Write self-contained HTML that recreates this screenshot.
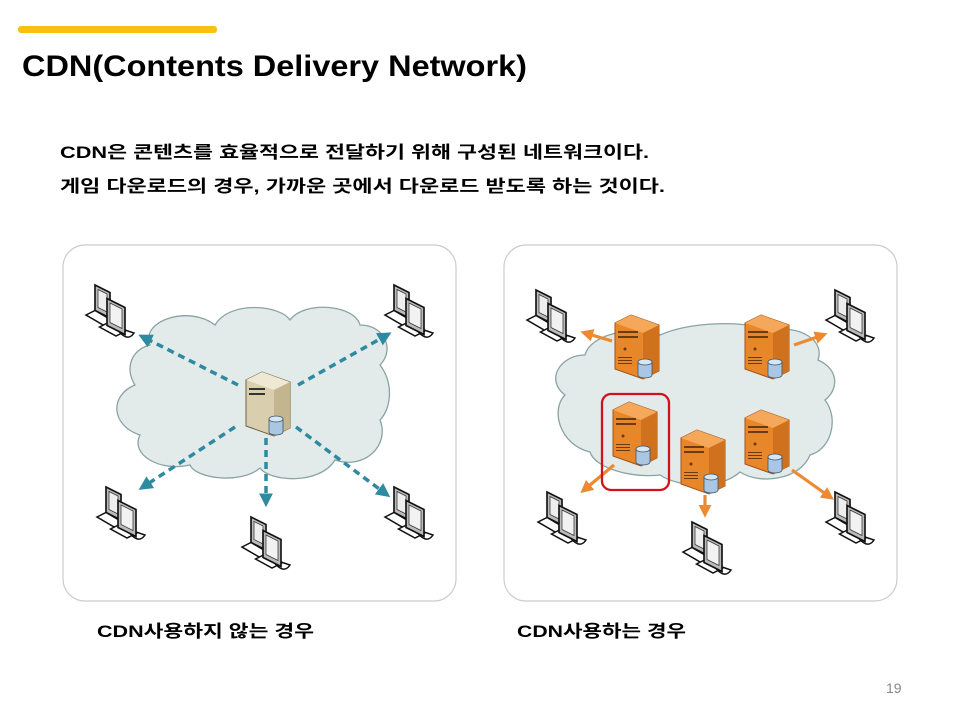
<!DOCTYPE html>
<html><head><meta charset="utf-8"><style>
html,body{margin:0;padding:0;background:#fff;width:960px;height:720px;overflow:hidden}
svg{display:block}
text{font-family:"Liberation Sans","Noto Sans CJK KR",sans-serif}
</style></head><body>
<svg width="960" height="720" viewBox="0 0 960 720" xmlns="http://www.w3.org/2000/svg">
<defs>
<g id="pc">
  <path d="M6 0 L16 5 L16 22 L6 17 Z" fill="#bbb" stroke="#111" stroke-width="1.1"/>
  <path d="M8 3 L14 6 L14 18 L8 15 Z" fill="#eee" stroke="#333" stroke-width="0.5"/>
  <path d="M0 20 L6 17 L18 24 L12 27 Z" fill="#fff" stroke="#111" stroke-width="1"/>
  <path d="M9 28 L15 25 L26 31 L20 34 Z" fill="#fff" stroke="#111" stroke-width="1"/>
  <path d="M14 9 L26 15 L26 33 L14 27 Z" fill="#bbb" stroke="#111" stroke-width="1.1"/>
  <path d="M16 12 L24 16 L24 29 L16 25 Z" fill="#f2f2f2" stroke="#333" stroke-width="0.5"/>
  <path d="M22 31 Q28 38 32 32 L26 30" fill="none" stroke="#111" stroke-width="1"/>
</g>
<g id="srv">
  <path d="M0 8 L16 0 L44 10 L44 56 L28 64 L0 54 Z" fill="#e8862a" stroke="#a0541a" stroke-width="1"/>
  <path d="M0 8 L16 0 L44 10 L28 18 Z" fill="#f6a85a"/>
  <path d="M28 18 L44 10 L44 56 L28 64 Z" fill="#d0711e"/>
  <rect x="3" y="16" width="20" height="2" fill="#6a3a10"/>
  <rect x="3" y="21" width="20" height="2" fill="#6a3a10"/>
  <circle cx="10" cy="34" r="1.5" fill="#6a3a10"/>
  <rect x="3" y="42" width="14" height="1" fill="#6a3a10"/>
  <rect x="3" y="45" width="14" height="1" fill="#6a3a10"/>
  <rect x="3" y="48" width="14" height="1" fill="#6a3a10"/>
  <path d="M23 47 L23 60 A7 3 0 0 0 37 60 L37 47 Z" fill="#a9c7e2" stroke="#456" stroke-width="0.8"/>
  <ellipse cx="30" cy="47" rx="7" ry="3" fill="#d6e6f3" stroke="#456" stroke-width="0.8"/>
</g>
<marker id="ab" markerWidth="4" markerHeight="4" refX="2.5" refY="2" orient="auto" markerUnits="strokeWidth"><path d="M0 0 L4 2 L0 4 Z" fill="#2e8aa0"/></marker>
<marker id="ao" markerWidth="4" markerHeight="4" refX="2.5" refY="2" orient="auto" markerUnits="strokeWidth"><path d="M0 0 L4 2 L0 4 Z" fill="#ec8a32"/></marker>
</defs>

<rect x="18" y="26" width="199" height="7" rx="3" fill="#f6c20f"/>
<text x="22" y="76" font-size="30" font-weight="bold" fill="#000" textLength="505" lengthAdjust="spacingAndGlyphs">CDN(Contents Delivery Network)</text>
<text x="60" y="158" font-size="17" font-weight="bold" fill="#000" textLength="589" lengthAdjust="spacingAndGlyphs">CDN은 콘텐츠를 효율적으로 전달하기 위해 구성된 네트워크이다.</text>
<text x="60" y="192" font-size="17" font-weight="bold" fill="#000" textLength="605" lengthAdjust="spacingAndGlyphs">게임 다운로드의 경우, 가까운 곳에서 다운로드 받도록 하는 것이다.</text>

<rect x="63" y="245" width="393" height="356" rx="22" fill="#fff" stroke="#ccc" stroke-width="1.2"/>
<path d="M150 345 C140 320 190 305 215 325 C230 300 280 305 290 320 C305 300 355 305 360 325 C385 325 395 350 380 365 C395 385 390 410 380 420 C390 445 365 470 335 460 C320 485 270 482 260 468 C240 485 195 478 190 465 C160 472 130 455 140 435 C110 425 110 395 135 385 C125 370 130 350 150 345 Z" fill="#e3eaea" stroke="#8aa3a3" stroke-width="1.3"/>
<g stroke="#2e8aa0" stroke-width="3.5" stroke-dasharray="7 5" fill="none">
  <line x1="238" y1="385" x2="143" y2="337" marker-end="url(#ab)"/>
  <line x1="298" y1="385" x2="387" y2="335" marker-end="url(#ab)"/>
  <line x1="235" y1="427" x2="143" y2="487" marker-end="url(#ab)"/>
  <line x1="266" y1="438" x2="266" y2="502" marker-end="url(#ab)"/>
  <line x1="296" y1="427" x2="386" y2="494" marker-end="url(#ab)"/>
</g>
<g transform="translate(246,372)">
  <path d="M0 8 L16 0 L44 10 L44 56 L28 64 L0 54 Z" fill="#d9cfae" stroke="#6b6040" stroke-width="1"/>
  <path d="M0 8 L16 0 L44 10 L28 18 Z" fill="#efe8d3"/>
  <path d="M28 18 L44 10 L44 56 L28 64 Z" fill="#c3b68e"/>
  <rect x="3" y="16" width="16" height="2" fill="#333"/><rect x="3" y="21" width="16" height="2" fill="#333"/>
  <path d="M23 47 L23 60 A7 3 0 0 0 37 60 L37 47 Z" fill="#a9c7e2" stroke="#456" stroke-width="0.8"/>
  <ellipse cx="30" cy="47" rx="7" ry="3" fill="#d6e6f3" stroke="#456" stroke-width="0.8"/>
</g>
<use href="#pc" transform="translate(86,285) scale(1.5)"/>
<use href="#pc" transform="translate(385,285) scale(1.5)"/>
<use href="#pc" transform="translate(97,487) scale(1.5)"/>
<use href="#pc" transform="translate(242,517) scale(1.5)"/>
<use href="#pc" transform="translate(385,487) scale(1.5)"/>

<rect x="504" y="245" width="393" height="356" rx="22" fill="#fff" stroke="#ccc" stroke-width="1.2"/>
<path d="M585 355 C590 335 630 325 660 335 C690 322 740 320 770 330 C800 325 825 340 818 360 C840 370 838 390 825 400 C840 420 830 450 810 455 C800 480 760 485 740 472 C720 490 680 488 660 475 C630 478 595 468 590 452 C560 445 550 410 565 395 C545 380 560 355 585 355 Z" fill="#e3eaea" stroke="#8aa3a3" stroke-width="1.3"/>
<g stroke="#ec8a32" stroke-width="3.2" fill="none">
  <line x1="612" y1="341" x2="585" y2="333" marker-end="url(#ao)"/>
  <line x1="794" y1="345" x2="823" y2="335" marker-end="url(#ao)"/>
  <line x1="614" y1="465" x2="584" y2="490" marker-end="url(#ao)"/>
  <line x1="705" y1="495" x2="705" y2="513" marker-end="url(#ao)"/>
  <line x1="792" y1="470" x2="830" y2="497" marker-end="url(#ao)"/>
</g>
<use href="#srv" transform="translate(615,315)"/>
<use href="#srv" transform="translate(745,315)"/>
<use href="#srv" transform="translate(613,402)"/>
<use href="#srv" transform="translate(681,430)"/>
<use href="#srv" transform="translate(745,410)"/>
<rect x="602" y="394" width="67" height="96" rx="9" fill="none" stroke="#d0121b" stroke-width="2.3"/>
<use href="#pc" transform="translate(527,290) scale(1.5)"/>
<use href="#pc" transform="translate(826,290) scale(1.5)"/>
<use href="#pc" transform="translate(538,492) scale(1.5)"/>
<use href="#pc" transform="translate(683,522) scale(1.5)"/>
<use href="#pc" transform="translate(826,492) scale(1.5)"/>

<text x="97" y="637" font-size="17" font-weight="bold" fill="#000" textLength="217" lengthAdjust="spacingAndGlyphs">CDN사용하지 않는 경우</text>
<text x="517" y="637" font-size="17" font-weight="bold" fill="#000" textLength="169" lengthAdjust="spacingAndGlyphs">CDN사용하는 경우</text>
<text x="886" y="693" font-size="14" fill="#888">19</text>
</svg>
</body></html>
